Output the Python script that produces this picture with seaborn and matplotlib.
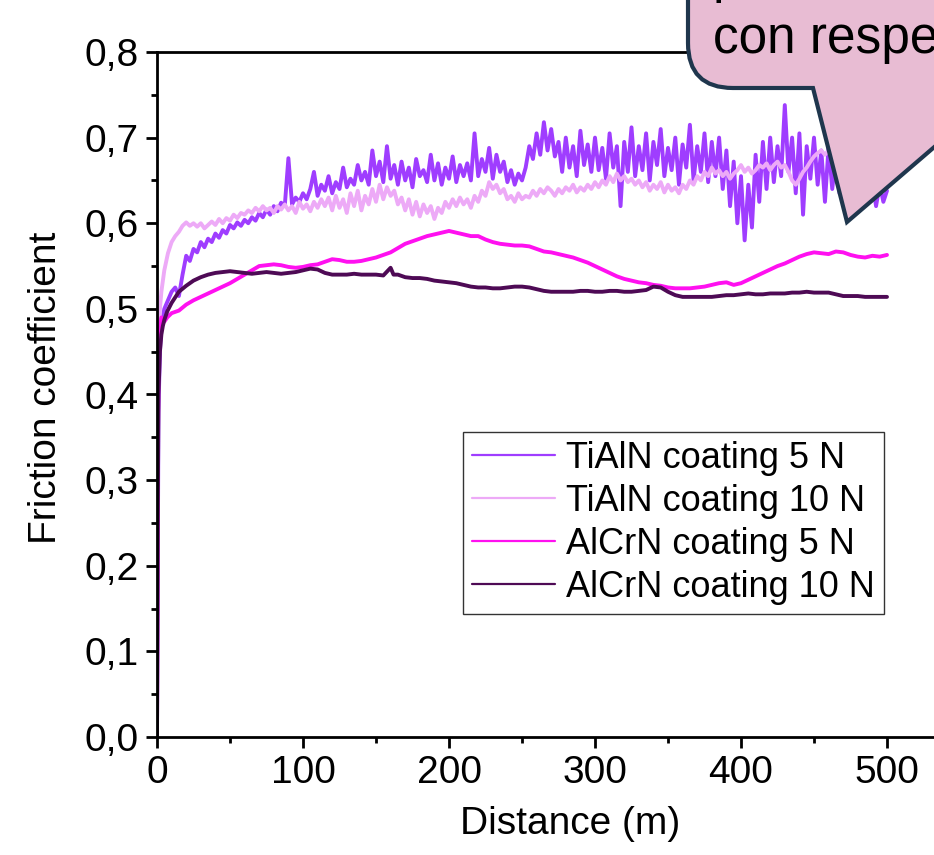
import numpy as np
import pandas as pd
import matplotlib
matplotlib.use('Agg')
import matplotlib.pyplot as plt
import seaborn as sns
from matplotlib.path import Path
from matplotlib.patches import PathPatch
from matplotlib.ticker import FuncFormatter, MultipleLocator

# series names / colours
NAMES = ['TiAlN coating 5 N', 'TiAlN coating 10 N',
         'AlCrN coating 5 N', 'AlCrN coating 10 N']
COLORS = ['#9F3DFF', '#EDAAF7', '#FF10F0', '#4E0A55']

# TiAlN runs: first metres, then every 2.5 m from 12.5 m
TIALN_EARLY_D = [0, 0.5, 1, 2, 3, 5, 7.5, 10]
TIALN_5N_EARLY = [0.0, 0.2, 0.38, 0.45, 0.48, 0.50, 0.51, 0.52]
TIALN_10N_EARLY = [0.0, 0.3, 0.45, 0.50, 0.52, 0.545, 0.565, 0.578]

TIALN_5N = [
    0.525, 0.515, 0.54, 0.562, 0.556, 0.57, 0.566, 0.578, 0.572, 0.582,
    0.578, 0.588, 0.583, 0.592, 0.588, 0.598, 0.594, 0.601, 0.597, 0.604,
    0.6, 0.607, 0.603, 0.612, 0.607, 0.616, 0.61, 0.62, 0.614, 0.624,
    0.62, 0.676, 0.622, 0.63, 0.625, 0.635, 0.628, 0.64, 0.66, 0.632,
    0.645, 0.638, 0.655, 0.635, 0.648, 0.64, 0.665, 0.642, 0.652, 0.645,
    0.668, 0.65, 0.66, 0.645, 0.685, 0.655, 0.672, 0.648, 0.69, 0.652,
    0.668, 0.645, 0.672, 0.65, 0.665, 0.642, 0.675, 0.655, 0.662, 0.648,
    0.68, 0.65, 0.67, 0.645, 0.665, 0.652, 0.678, 0.648, 0.668, 0.655,
    0.67, 0.65, 0.705, 0.655, 0.675, 0.66, 0.688, 0.652, 0.68, 0.66,
    0.672, 0.648, 0.662, 0.645, 0.658, 0.65, 0.665, 0.69, 0.675, 0.705,
    0.68, 0.718, 0.685, 0.71, 0.678, 0.695, 0.66, 0.70, 0.665, 0.69,
    0.655, 0.708, 0.668, 0.692, 0.66, 0.70, 0.662, 0.688, 0.652, 0.705,
    0.665, 0.69, 0.62, 0.695, 0.66, 0.712, 0.655, 0.69, 0.662, 0.705,
    0.65, 0.695, 0.668, 0.71, 0.655, 0.688, 0.662, 0.70, 0.645, 0.692,
    0.665, 0.715, 0.65, 0.69, 0.66, 0.705, 0.648, 0.695, 0.655, 0.70,
    0.64, 0.685, 0.62, 0.672, 0.60, 0.655, 0.58, 0.645, 0.595, 0.68,
    0.625, 0.695, 0.64, 0.70, 0.648, 0.69, 0.655, 0.738, 0.66, 0.70,
    0.635, 0.705, 0.61, 0.69, 0.652, 0.70, 0.645, 0.685, 0.625, 0.69,
    0.64, 0.68, 0.635, 0.675, 0.64, 0.67, 0.632, 0.665, 0.628, 0.66,
    0.625, 0.65, 0.62, 0.645, 0.625, 0.638]

TIALN_10N = [
    0.585, 0.59, 0.597, 0.601, 0.597, 0.60, 0.596, 0.60, 0.594, 0.598,
    0.602, 0.598, 0.605, 0.60, 0.606, 0.603, 0.61, 0.606, 0.612, 0.61,
    0.615, 0.612, 0.618, 0.614, 0.62, 0.615, 0.618, 0.612, 0.62, 0.616,
    0.622, 0.615, 0.62, 0.612, 0.625, 0.617, 0.622, 0.614, 0.625, 0.618,
    0.628, 0.62, 0.63, 0.615, 0.632, 0.618, 0.628, 0.612, 0.635, 0.62,
    0.638, 0.615, 0.632, 0.622, 0.64, 0.625, 0.645, 0.628, 0.642, 0.632,
    0.638, 0.622, 0.63, 0.615, 0.628, 0.61, 0.625, 0.608, 0.622, 0.612,
    0.62, 0.605, 0.618, 0.612, 0.625, 0.618, 0.628, 0.62, 0.63, 0.622,
    0.628, 0.618, 0.632, 0.625, 0.638, 0.632, 0.648, 0.64, 0.645, 0.635,
    0.64, 0.628, 0.632, 0.625, 0.635, 0.628, 0.632, 0.63, 0.638, 0.632,
    0.64, 0.635, 0.642, 0.638, 0.632, 0.64, 0.635, 0.642, 0.638, 0.645,
    0.636, 0.642, 0.638, 0.645, 0.64, 0.648, 0.642, 0.65, 0.645, 0.655,
    0.648, 0.658, 0.65, 0.655, 0.648, 0.652, 0.645, 0.65, 0.642, 0.648,
    0.638, 0.645, 0.64, 0.648, 0.636, 0.645, 0.638, 0.642, 0.635, 0.645,
    0.64, 0.65, 0.645, 0.655, 0.65, 0.66, 0.655, 0.665, 0.658, 0.662,
    0.655, 0.66, 0.652, 0.658, 0.662, 0.668, 0.66, 0.665, 0.658, 0.662,
    0.668, 0.665, 0.67, 0.662, 0.668, 0.672, 0.665, 0.668, 0.66, 0.65,
    0.645, 0.652, 0.66, 0.665, 0.672, 0.678, 0.682, 0.685, 0.68, 0.685,
    0.678, 0.682, 0.675, 0.678, 0.67, 0.672, 0.665, 0.668, 0.66, 0.662,
    0.655, 0.658, 0.65, 0.652, 0.645, 0.65]

# AlCrN runs (smoother)
ALCRN_5N_D = [0, 0.5, 1, 2, 3, 5, 7, 10, 15, 20, 25, 30, 35, 40, 45, 50, 55,
              60, 65, 70, 75, 80, 85, 90, 95, 100, 105, 110, 115, 120, 125,
              130, 135, 140, 145, 150, 155, 160, 165, 170, 175, 180, 185, 190,
              195, 200, 205, 210, 215, 220, 225, 230, 235, 240, 245, 250, 255,
              260, 265, 270, 275, 280, 285, 290, 295, 300, 305, 310, 315, 320,
              325, 330, 335, 340, 345, 350, 355, 360, 365, 370, 375, 380, 385,
              390, 395, 400, 405, 410, 415, 420, 425, 430, 435, 440, 445, 450,
              455, 460, 465, 470, 475, 480, 485, 490, 495, 500]
ALCRN_5N = [0.0, 0.3, 0.44, 0.48, 0.49, 0.485, 0.49, 0.495, 0.498, 0.505,
            0.51, 0.514, 0.518, 0.522, 0.526, 0.53, 0.535, 0.54, 0.545, 0.55,
            0.551, 0.552, 0.551, 0.549, 0.548, 0.549, 0.551, 0.552, 0.555,
            0.558, 0.557, 0.555, 0.555, 0.556, 0.558, 0.56, 0.563, 0.566,
            0.571, 0.576, 0.579, 0.582, 0.585, 0.587, 0.589, 0.591, 0.589,
            0.587, 0.585, 0.585, 0.581, 0.578, 0.576, 0.575, 0.574, 0.574,
            0.573, 0.57, 0.567, 0.566, 0.564, 0.562, 0.56, 0.557, 0.554,
            0.55, 0.546, 0.542, 0.538, 0.535, 0.533, 0.531, 0.53, 0.528,
            0.527, 0.525, 0.524, 0.524, 0.524, 0.525, 0.526, 0.528, 0.53,
            0.531, 0.528, 0.53, 0.534, 0.538, 0.542, 0.546, 0.55, 0.553,
            0.557, 0.561, 0.564, 0.566, 0.565, 0.564, 0.567, 0.566, 0.563,
            0.561, 0.56, 0.562, 0.561, 0.563]

ALCRN_10N_D = [0, 0.5, 1, 2, 3, 4, 5, 7, 10, 15, 20, 25, 30, 35, 40, 45, 50,
               55, 60, 65, 70, 75, 80, 85, 90, 95, 100, 105, 110, 115, 120,
               125, 130, 135, 140, 145, 150, 155, 160, 162, 165, 170, 175, 180,
               185, 190, 195, 200, 205, 210, 215, 220, 225, 230, 235, 240, 245,
               250, 255, 260, 265, 270, 275, 280, 285, 290, 295, 300, 305, 310,
               315, 320, 325, 330, 335, 340, 345, 350, 355, 360, 365, 370, 375,
               380, 385, 390, 395, 400, 405, 410, 415, 420, 425, 430, 435, 440,
               445, 450, 455, 460, 465, 470, 475, 480, 485, 490, 495, 500]
ALCRN_10N = [0.0, 0.25, 0.40, 0.45, 0.47, 0.48, 0.487, 0.497, 0.507, 0.52,
             0.527, 0.533, 0.537, 0.54, 0.542, 0.543, 0.544, 0.543, 0.542,
             0.541, 0.542, 0.543, 0.542, 0.541, 0.542, 0.543, 0.545, 0.547,
             0.546, 0.542, 0.54, 0.54, 0.54, 0.541, 0.54, 0.54, 0.54, 0.539,
             0.548, 0.54, 0.54, 0.537, 0.536, 0.536, 0.535, 0.533, 0.532,
             0.531, 0.53, 0.528, 0.526, 0.525, 0.525, 0.524, 0.524, 0.525,
             0.526, 0.526, 0.525, 0.523, 0.521, 0.52, 0.52, 0.52, 0.52, 0.521,
             0.521, 0.52, 0.52, 0.521, 0.521, 0.52, 0.52, 0.521, 0.522, 0.526,
             0.525, 0.52, 0.516, 0.514, 0.514, 0.514, 0.514, 0.514, 0.515,
             0.516, 0.516, 0.517, 0.518, 0.517, 0.517, 0.518, 0.518, 0.518,
             0.519, 0.519, 0.52, 0.519, 0.519, 0.519, 0.517, 0.515, 0.515,
             0.515, 0.514, 0.514, 0.514, 0.514]

BUBBLE_LINES = ['presenta un mayor COF', 'con respecto al recubrimiento AlCrN']

# build long table
frames = [
    pd.DataFrame({'dist': TIALN_EARLY_D + list(np.linspace(12.5, 500, len(TIALN_5N))),
                  'mu': TIALN_5N_EARLY + TIALN_5N}),
    pd.DataFrame({'dist': TIALN_EARLY_D + list(np.linspace(12.5, 500, len(TIALN_10N))),
                  'mu': TIALN_10N_EARLY + TIALN_10N}),
    pd.DataFrame({'dist': ALCRN_5N_D, 'mu': ALCRN_5N}),
    pd.DataFrame({'dist': ALCRN_10N_D, 'mu': ALCRN_10N}),
]
for f, name in zip(frames, NAMES):
    f['coating'] = name
df = pd.concat(frames, ignore_index=True)

sns.set_style('ticks')
plt.rcParams['font.family'] = ['Liberation Sans', 'DejaVu Sans']
plt.rcParams['text.color'] = 'black'
plt.rcParams['axes.labelcolor'] = 'black'

W, H = 934, 855
fig = plt.figure(figsize=(W / 100, H / 100), dpi=100)
ax = fig.add_axes([157 / W, 1 - 737 / H, (1000 - 157) / W, 685 / H])

for name, col in zip(NAMES, COLORS):
    sns.lineplot(data=df[df['coating'] == name], x='dist', y='mu', ax=ax,
                 color=col, linewidth=2.8, label=name, estimator=None)

ax.set_xlim(0, (1000 - 157) / 1.46)
ax.set_ylim(0, 0.8)
ax.xaxis.set_major_locator(MultipleLocator(100))
ax.xaxis.set_minor_locator(MultipleLocator(50))
ax.yaxis.set_major_locator(MultipleLocator(0.1))
ax.yaxis.set_minor_locator(MultipleLocator(0.05))
ax.yaxis.set_major_formatter(FuncFormatter(lambda v, p: f'{v:.1f}'.replace('.', ',')))

for s in ax.spines.values():
    s.set_linewidth(2.0)
    s.set_color('black')
ax.tick_params(which='major', direction='out', length=8, width=2.0,
               labelsize=28, pad=5, colors='black')
ax.tick_params(which='minor', direction='out', length=4.5, width=2.0,
               colors='black')

ax.set_xlabel('Distance (m)', fontsize=28, color='black')
ax.set_ylabel('Friction coefficient', fontsize=28, color='black')
ax.xaxis.set_label_coords((570 - 157) / 843, (737 - 806) / 685)
ax.yaxis.set_label_coords((64 - 157) / 843, 0.51)

leg = ax.legend(loc='upper left', bbox_to_anchor=((463 - 157) / 843, (737 - 432) / 685),
                borderaxespad=0, fontsize=26, frameon=True, fancybox=False,
                borderpad=0.25, handlelength=2.3, handletextpad=0.3,
                labelspacing=0.22, framealpha=1)
leg.get_frame().set_edgecolor('#333333')
leg.get_frame().set_linewidth(1.0)
for h in leg.get_lines():
    h.set_linewidth(1.6)
for t in leg.get_texts():
    t.set_color('black')


# speech bubble, figure pixel coords (y down)
def to_fig(px, py):
    return (px / W, 1 - py / H)


verts = [(688, -60), (688, 43), (688, 88), (733, 88), (813, 88), (847, 222),
         (1010, 82), (1010, -60), (688, -60)]
codes = [Path.MOVETO, Path.LINETO, Path.CURVE3, Path.CURVE3, Path.LINETO,
         Path.LINETO, Path.LINETO, Path.LINETO, Path.CLOSEPOLY]
bubble = PathPatch(Path([to_fig(*v) for v in verts], codes),
                   transform=fig.transFigure, facecolor='#E8BCD3',
                   edgecolor='#1F364D', lw=3.0, joinstyle='miter', zorder=5)
fig.add_artist(bubble)
fig.text(*to_fig(713, -8), BUBBLE_LINES[0], fontsize=37, va='baseline',
         ha='left', color='black', zorder=6)
fig.text(*to_fig(713, 53), BUBBLE_LINES[1], fontsize=37, va='baseline',
         ha='left', color='black', zorder=6)

fig.savefig('out.png', dpi=100)
